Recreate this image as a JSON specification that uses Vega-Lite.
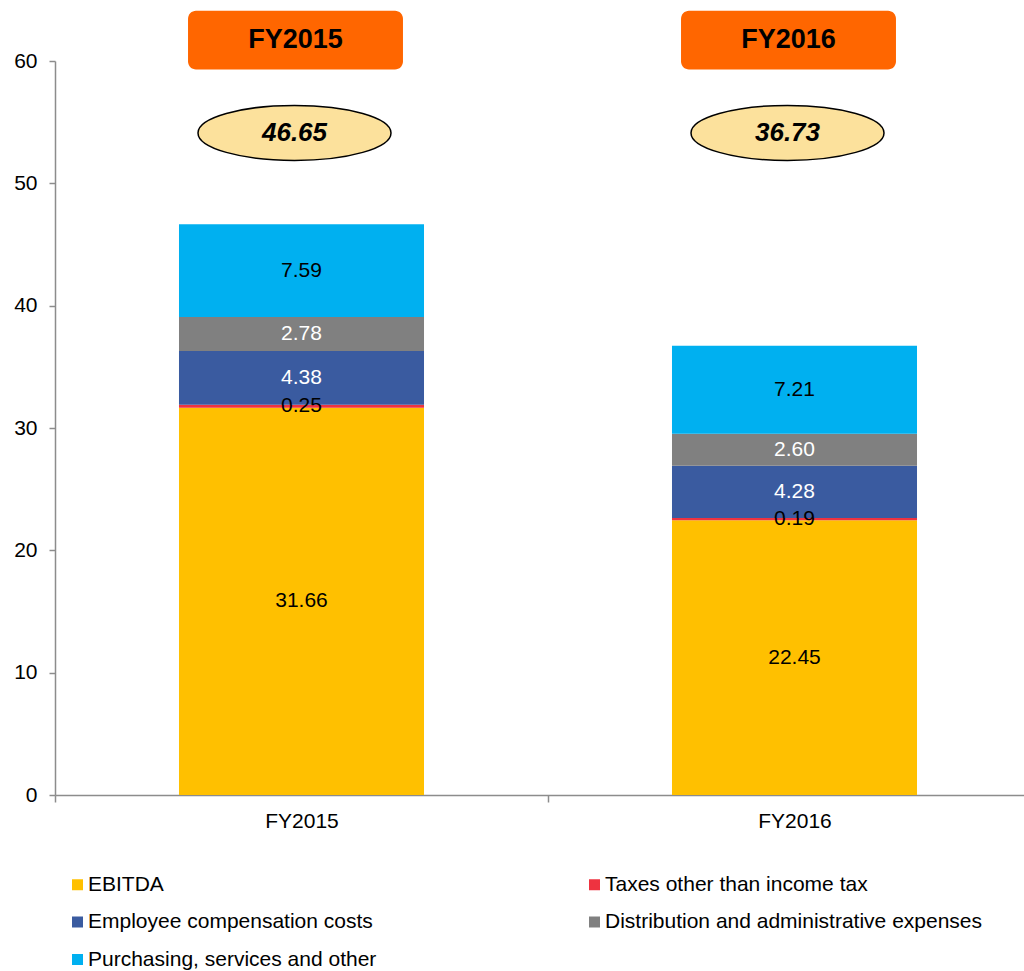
{
  "$schema": "https://vega.github.io/schema/vega-lite/v6.json",
  "autosize": {"type": "none"},
  "padding": {"left": 55, "top": 61, "right": 0, "bottom": 176},
  "width": 969,
  "height": 734,
  "background": "white",
  "config": {
    "view": {"stroke": null},
    "font": "Liberation Sans",
    "axis": {"grid": false, "domainColor": "#8C8C8C", "domainWidth": 1.5, "tickColor": "#8C8C8C", "tickWidth": 1.5, "labelColor": "black", "labelFont": "Liberation Sans", "labelFontSize": 21, "title": null}
  },
  "datasets": {
    "costs": [
      {"year": "FY2015", "series": "EBITDA", "k": 1, "value": 31.66},
      {"year": "FY2015", "series": "Taxes other than income tax", "k": 2, "value": 0.25},
      {"year": "FY2015", "series": "Employee compensation costs", "k": 3, "value": 4.38},
      {"year": "FY2015", "series": "Distribution and administrative expenses", "k": 4, "value": 2.78},
      {"year": "FY2015", "series": "Purchasing, services and other", "k": 5, "value": 7.59},
      {"year": "FY2016", "series": "EBITDA", "k": 1, "value": 22.45},
      {"year": "FY2016", "series": "Taxes other than income tax", "k": 2, "value": 0.19},
      {"year": "FY2016", "series": "Employee compensation costs", "k": 3, "value": 4.28},
      {"year": "FY2016", "series": "Distribution and administrative expenses", "k": 4, "value": 2.60},
      {"year": "FY2016", "series": "Purchasing, services and other", "k": 5, "value": 7.21}
    ],
    "totals": [
      {"year": "FY2015", "total": 46.65},
      {"year": "FY2016", "total": 36.73}
    ]
  },
  "encoding": {
    "x": {
      "field": "year",
      "type": "nominal",
      "scale": {"domain": ["FY2015", "FY2016"], "range": [0, 986], "paddingInner": 0, "paddingOuter": 0},
      "axis": {"labelAngle": 0, "tickBand": "extent", "tickSize": 7, "labelPadding": 8}
    }
  },
  "layer": [
    {
      "data": {"name": "costs"},
      "transform": [
        {"stack": "value", "groupby": ["year"], "sort": [{"field": "k", "order": "ascending"}], "as": ["y0", "y1"]},
        {"calculate": "(datum.y0 + datum.y1) / 2", "as": "mid"}
      ],
      "layer": [
        {
          "mark": {"type": "bar", "width": {"band": 0.497}},
          "encoding": {
            "y": {"field": "y0", "type": "quantitative", "scale": {"domain": [0, 60]}, "axis": {"values": [0, 10, 20, 30, 40, 50, 60], "tickSize": 6, "labelPadding": 12}},
            "y2": {"field": "y1"},
            "color": {
              "field": "series",
              "type": "nominal",
              "scale": {
                "domain": ["EBITDA", "Taxes other than income tax", "Employee compensation costs", "Distribution and administrative expenses", "Purchasing, services and other"],
                "range": ["#FFC000", "#EE3340", "#3A5BA0", "#808080", "#00B0F0"]
              },
              "legend": {
                "title": null,
                "orient": "none",
                "direction": "horizontal",
                "legendX": 12,
                "legendY": 813,
                "columns": 2,
                "columnPadding": 207,
                "rowPadding": 15.5,
                "symbolType": "square",
                "symbolSize": 121,
                "symbolStrokeWidth": 0,
                "labelOffset": 0,
                "labelFont": "Liberation Sans",
                "labelFontSize": 21,
                "labelColor": "black",
                "labelLimit": 600
              }
            }
          }
        },
        {
          "mark": {"type": "text", "fontSize": 21, "align": "center", "baseline": "middle"},
          "encoding": {
            "y": {"field": "mid", "type": "quantitative"},
            "text": {"field": "value", "type": "quantitative", "format": ".2f"},
            "color": {
              "condition": {"test": "datum.series === 'Employee compensation costs' || datum.series === 'Distribution and administrative expenses'", "value": "white"},
              "value": "black"
            }
          }
        }
      ]
    },
    {
      "data": {"name": "totals"},
      "layer": [
        {
          "mark": {"type": "bar", "width": {"band": 0.436}, "color": "#FF6600", "cornerRadius": 8, "xOffset": -6},
          "encoding": {
            "y": {"datum": 64.1, "type": "quantitative"},
            "y2": {"datum": 59.3}
          }
        },
        {
          "mark": {"type": "text", "fontSize": 27, "fontWeight": "bold", "color": "black", "align": "center", "baseline": "middle", "xOffset": -6},
          "encoding": {
            "y": {"datum": 61.7, "type": "quantitative"},
            "text": {"field": "year"}
          }
        },
        {
          "mark": {"type": "point", "filled": true, "shape": "M-1,0A1,0.285 0 1,0 1,0A1,0.285 0 1,0 -1,0Z", "size": 37249, "fill": "#FCE19C", "stroke": "black", "strokeWidth": 1.5, "opacity": 1, "xOffset": -7},
          "encoding": {
            "y": {"datum": 54.12, "type": "quantitative"}
          }
        },
        {
          "mark": {"type": "text", "fontSize": 26, "fontWeight": "bold", "fontStyle": "italic", "color": "black", "align": "center", "baseline": "middle", "xOffset": -7},
          "encoding": {
            "y": {"datum": 54.12, "type": "quantitative"},
            "text": {"field": "total", "type": "quantitative", "format": ".2f"}
          }
        }
      ]
    }
  ]
}
